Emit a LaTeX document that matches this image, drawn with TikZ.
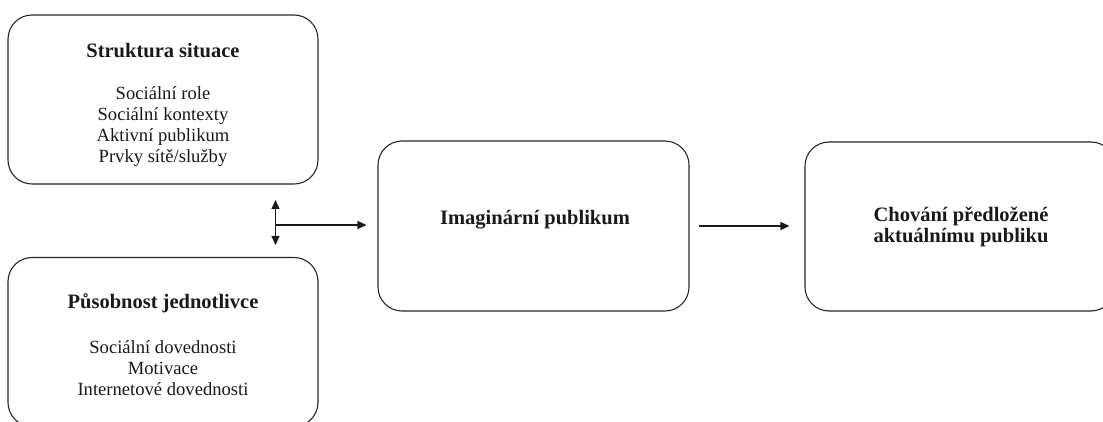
\documentclass[tikz,border=0pt]{standalone}
\usepackage{fontspec}
\setmainfont{Liberation Serif}
\usetikzlibrary{arrows.meta}
\newcommand{\ttl}[1]{{\fontsize{20.5}{21}\selectfont\bfseries #1}}
\begin{document}
\begin{tikzpicture}[x=1pt,y=-1pt,
  box/.style={draw=black!85, line width=1.1pt, rounded corners=24pt, minimum width=310pt, minimum height=169pt, inner sep=0pt},
  txt/.style={align=center, font=\fontsize{18.6}{21}\selectfont, inner sep=0pt, text=black!90},
  tip/.style={-{Triangle[length=9pt,width=8pt]}},
  conn/.style={draw=black!90, line width=1.2pt},
]
\useasboundingbox (0,0) rectangle (1103,422);
\clip (0,0) rectangle (1103,422);
\node[box] (s) at (163,99.5) {};
\node[box] (p) at (163,342) {};
\node[box, minimum width=311pt, minimum height=170pt] (i) at (533.5,226) {};
\node[box] (c) at (960,226.5) {};

\node[txt] (st) at (163,104.5) {\ttl{Struktura situace}\\[21pt]Sociální role\\Sociální kontexty\\Aktivní publikum\\Prvky sítě/služby};
\node[txt] (pt) at (163,345) {\ttl{Působnost jednotlivce}\\[24pt]Sociální dovednosti\\Motivace\\Internetové dovednosti};
\node[txt] (it) at (535,220) {\ttl{Imaginární publikum}};
\node[txt] (ct) at (961,227) {\ttl{Chování předložené}\\\ttl{aktuálnímu publiku}};

\coordinate (up) at (275.5,200);
\coordinate (dn) at (275.5,245);
\coordinate (j) at (275.5,225);
\draw[conn, {Triangle[length=9pt,width=8pt]}-{Triangle[length=9pt,width=8pt]}] (up) -- (dn);
\draw[conn, tip] (j) -- ([xshift=-11pt]i.west |- j);
\draw[conn, tip] ([xshift=9pt]i.east) -- ([xshift=-15pt]c.west |- i.east);
\end{tikzpicture}
\end{document}
